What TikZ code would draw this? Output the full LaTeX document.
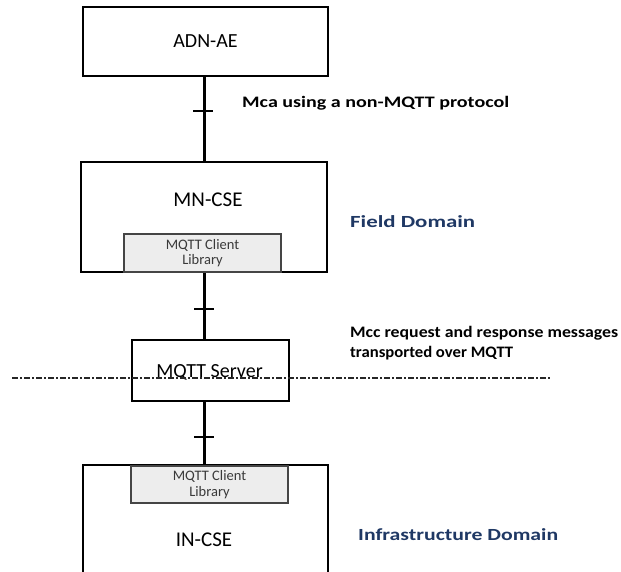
\documentclass[tikz,border=0pt]{standalone}
\usepackage{fontspec}
\setmainfont{Carlito}
\usepackage{graphicx}
\definecolor{domblue}{HTML}{1F3864}
\definecolor{libfill}{HTML}{EDEDED}
\definecolor{libline}{HTML}{454545}
\definecolor{libtext}{HTML}{3A3A3A}
\newcommand{\fitw}[2]{\resizebox{#1}{\height}{#2}}
\begin{document}
\begin{tikzpicture}[x=1pt,y=-1pt,
  box/.style={draw=black,line width=2pt,fill=white,inner sep=0pt,font=\fontsize{20}{24}\selectfont},
  libbox/.style={draw=libline,line width=1.3pt,fill=libfill,inner sep=0pt,align=center,text=libtext},
  conn/.style={line width=3pt},
  tickmark/.style={line width=2.5pt},
  domtext/.style={text=domblue,font=\bfseries\fontsize{17}{20}\selectfont,inner sep=0pt,anchor=west},
  lbltext/.style={font=\bfseries\fontsize{16}{20}\selectfont,inner sep=0pt,anchor=west,align=left},
  divider/.style={line width=1.8pt,dash pattern=on 6pt off 2pt on 2pt off 2pt,draw=black!85}
]
\useasboundingbox (0,0) rectangle (621,571);

% boxes
\node[box,minimum width=245pt,minimum height=69pt] (adn) at (205.5,41.5) {ADN-AE};
\node[box,minimum width=246pt,minimum height=110pt] (mn) at (204,217) {};
\node[inner sep=0pt,font=\fontsize{21}{24}\selectfont] (mnlbl) at (208,200) {MN-CSE};
\node[libbox,minimum width=157pt,minimum height=38pt,font=\fontsize{14.5}{14.5}\selectfont] (libA) at (202.5,253) {MQTT Client\\Library};

\node[box,minimum width=157pt,minimum height=61pt] (srv) at (210.5,370.5) {};
\node[inner sep=0pt,font=\fontsize{20}{24}\selectfont] (srvlbl) at (209.5,372) {MQTT Server};

\node[box,minimum width=245pt,minimum height=150pt] (in) at (205.5,540) {};
\node[inner sep=0pt,font=\fontsize{21}{24}\selectfont] (inlbl) at (204,540) {IN-CSE};
\node[libbox,minimum width=157pt,minimum height=37pt,font=\fontsize{14.5}{16}\selectfont] (libB) at (209.5,484.5) {MQTT Client\\Library};

% connectors
\coordinate (spine) at (204,0);
\draw[conn] (spine |- adn.south) -- (spine |- mn.north);
\draw[conn] (spine |- mn.south) -- (spine |- srv.north);
\draw[conn] (spine |- srv.south) -- (spine |- libB.north);

\coordinate (t1) at (203,111);
\coordinate (t2) at (204,309);
\coordinate (t3) at (204,437);
\draw[tickmark] ([xshift=-10pt]t1) -- ([xshift=10pt]t1);
\draw[tickmark] ([xshift=-10pt]t2) -- ([xshift=10pt]t2);
\draw[tickmark] ([xshift=-10pt]t3) -- ([xshift=10pt]t3);

% divider
\coordinate (dl) at (12,378);
\coordinate (dr) at (550,378);
\draw[divider] (dl) -- (dr);

% labels
\node[lbltext] (mca) at (242,103) {\fitw{267pt}{Mca using a non-MQTT protocol}};
\node[domtext] (field) at (350,222) {\fitw{125pt}{Field Domain}};
\node[lbltext] (mcc) at (350,343) {\fitw{268pt}{Mcc request and response messages}\\\fitw{163pt}{transported over MQTT}};
\node[domtext] (infra) at (358,535) {\fitw{200pt}{Infrastructure Domain}};
\end{tikzpicture}
\end{document}
